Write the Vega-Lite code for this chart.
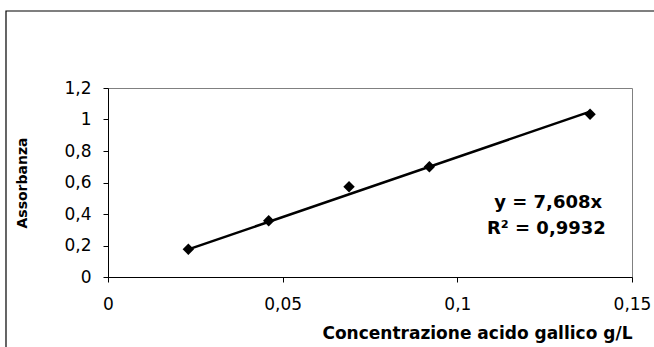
{
  "$schema": "https://vega.github.io/schema/vega-lite/v6.json",
  "width": 524,
  "height": 189,
  "autosize": {"type": "none"},
  "padding": {"left": 108, "top": 88, "right": 22, "bottom": 70},
  "background": "white",
  "config": {
    "view": {"stroke": "#808080", "strokeWidth": 1},
    "font": "DejaVu Sans",
    "axis": {
      "grid": false,
      "domainColor": "black",
      "tickColor": "black",
      "tickSize": 5,
      "labelFont": "DejaVu Sans",
      "labelFontSize": 17,
      "labelColor": "black",
      "labelFlush": false,
      "labelOverlap": false,
      "titleFont": "DejaVu Sans",
      "titleFontWeight": "bold",
      "titleColor": "black"
    }
  },
  "datasets": {
    "standard": [
      {"conc": 0.023, "abs": 0.176},
      {"conc": 0.046, "abs": 0.357},
      {"conc": 0.069, "abs": 0.573},
      {"conc": 0.092, "abs": 0.700},
      {"conc": 0.138, "abs": 1.033}
    ],
    "trend": [
      {"conc": 0.023, "abs": 0.175},
      {"conc": 0.138, "abs": 1.050}
    ]
  },
  "layer": [
    {
      "data": {"name": "standard"},
      "mark": {"type": "point", "shape": "diamond", "filled": true, "color": "black", "opacity": 1, "size": 130},
      "encoding": {
        "x": {
          "field": "conc",
          "type": "quantitative",
          "scale": {"domain": [0, 0.15], "nice": false},
          "axis": {
            "values": [0, 0.05, 0.1, 0.15],
            "title": "Concentrazione acido gallico g/L",
            "labelPadding": 14,
            "labelOverlap": false,
            "labelExpr": "replace(format(datum.value, '~g'), '.', ',')",
            "titleFontSize": 17,
            "titleAnchor": "end",
            "titlePadding": 13
          }
        },
        "y": {
          "field": "abs",
          "type": "quantitative",
          "scale": {"domain": [0, 1.2], "nice": false},
          "axis": {
            "tickCount": 6,
            "title": "Assorbanza",
            "labelPadding": 12,
            "labelOverlap": false,
            "labelExpr": "replace(format(datum.value, '~g'), '.', ',')",
            "titleFontSize": 14,
            "titlePadding": 34
          }
        }
      }
    },
    {
      "description": "outer chart frame",
      "data": {"values": [{}]},
      "mark": {"type": "rect", "fillOpacity": 0, "stroke": "black", "strokeWidth": 1.2},
      "encoding": {
        "x": {"datum": -0.0292, "type": "quantitative"},
        "x2": {"datum": 0.16},
        "y": {"datum": 1.689, "type": "quantitative"},
        "y2": {"datum": -0.47}
      }
    },
    {
      "data": {"name": "trend"},
      "mark": {"type": "line", "color": "black", "strokeWidth": 2.5},
      "encoding": {
        "x": {"field": "conc", "type": "quantitative"},
        "y": {"field": "abs", "type": "quantitative"}
      }
    },
    {
      "data": {"values": [{}]},
      "mark": {"type": "text", "text": "y = 7,608x", "font": "DejaVu Sans", "fontSize": 18, "fontWeight": "bold", "color": "black", "align": "center", "baseline": "middle"},
      "encoding": {
        "x": {"datum": 0.126, "type": "quantitative"},
        "y": {"datum": 0.47, "type": "quantitative"}
      }
    },
    {
      "data": {"values": [{}]},
      "mark": {"type": "text", "text": "R² = 0,9932", "font": "DejaVu Sans", "fontSize": 18, "fontWeight": "bold", "color": "black", "align": "center", "baseline": "middle"},
      "encoding": {
        "x": {"datum": 0.1255, "type": "quantitative"},
        "y": {"datum": 0.305, "type": "quantitative"}
      }
    }
  ]
}
